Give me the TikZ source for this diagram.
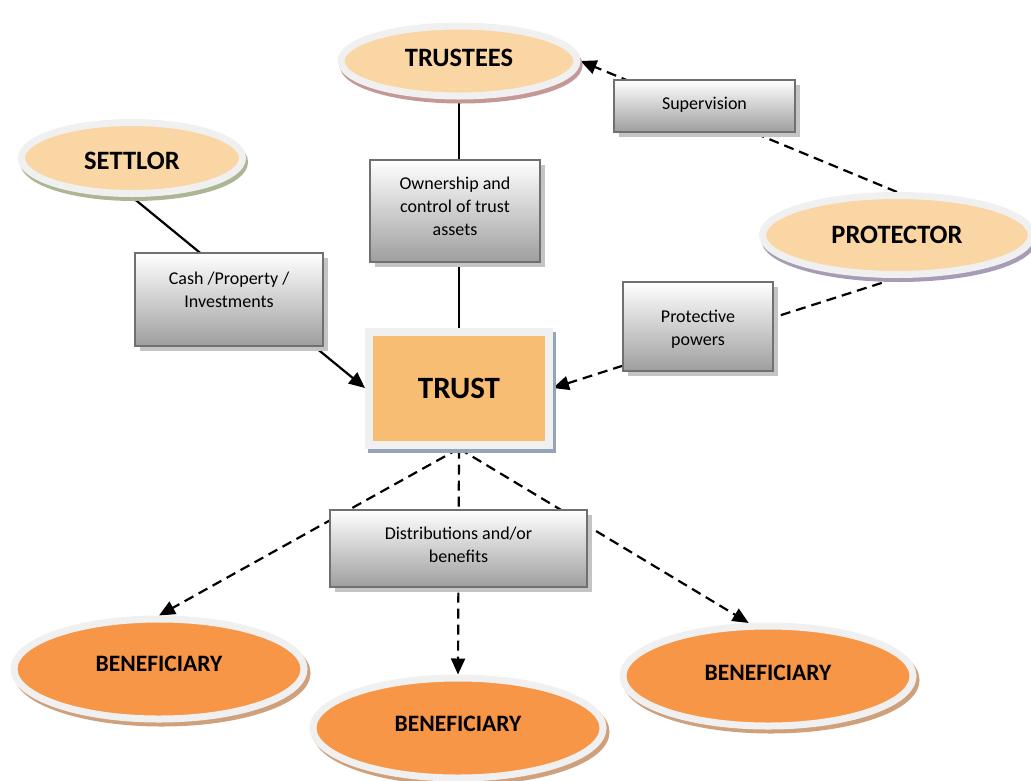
\documentclass[tikz,border=0pt]{standalone}
\usepackage{fontspec}
\setmainfont{Carlito}
\usetikzlibrary{shapes.geometric,shadows,arrows.meta}
\pgfdeclarelayer{bg}
\pgfsetlayers{bg,main}

\definecolor{rim}{RGB}{240,240,240}
\definecolor{peach}{RGB}{250,214,165}
\definecolor{bene}{RGB}{247,150,70}
\definecolor{trustfill}{RGB}{247,189,114}
\definecolor{shRose}{RGB}{196,152,150}
\definecolor{shSage}{RGB}{172,182,148}
\definecolor{shLilac}{RGB}{166,156,182}
\definecolor{shSteel}{RGB}{150,164,186}
\definecolor{shTan}{RGB}{206,160,124}
\definecolor{boxbot}{RGB}{158,158,158}
\definecolor{boxedge}{RGB}{112,112,112}
\definecolor{boxshadow}{RGB}{196,196,196}

% lift a title inside its shape while keeping the box extents
\newcommand{\liftby}[2]{\raisebox{#1}[\height][\depth]{#2}}

\begin{document}
\begin{tikzpicture}[x=1pt,y=-1pt,
  party/.style={ellipse, draw=rim, line width=7pt, fill=peach, inner sep=0pt,
    font=\bfseries\fontsize{26.5}{30}\selectfont,
    general shadow={draw=#1, fill=#1, line width=7pt, shadow xshift=2pt, shadow yshift=-4pt}},
  heir/.style={ellipse, draw=rim, line width=7pt, fill=bene, inner sep=0pt,
    minimum width=290pt, minimum height=100pt,
    font=\bfseries\fontsize{23.5}{27}\selectfont,
    general shadow={draw=shTan, fill=shTan, line width=7pt, shadow xshift=3pt, shadow yshift=-4pt}},
  trustbox/.style={rectangle, draw=rim, line width=8pt, fill=trustfill, inner sep=0pt,
    minimum width=180pt, minimum height=113pt,
    font=\bfseries\fontsize{31}{36}\selectfont,
    general shadow={draw=shSteel, fill=shSteel, line width=8pt, shadow xshift=3pt, shadow yshift=-4pt}},
  lbl/.style={rectangle, draw=boxedge, line width=2.2pt, inner sep=0pt,
    top color=white, bottom color=boxbot,
    general shadow={fill=boxshadow, shadow xshift=5pt, shadow yshift=-5pt}},
  lbltext/.style={align=center, font=\fontsize{18}{23}\selectfont, inner sep=0pt},
  link/.style={line width=2.2pt, black},
  tip/.style={-{Triangle[length=16pt,width=14pt]}},
  dashlink/.style={line width=2.2pt, black, dash pattern=on 10pt off 6pt},
]
\useasboundingbox (0,0) rectangle (1031,780);

% parties
\node[party=shRose, minimum width=236pt, minimum height=70pt] (trustees) at (459,61) {\liftby{3pt}{TRUSTEES}};
\node[party=shSage, minimum width=221pt, minimum height=71pt] (settlor) at (132,158) {\liftby{-3pt}{SETTLOR}};
\node[party=shLilac, minimum width=269pt, minimum height=79pt] (protector) at (897,235) {PROTECTOR};

% the trust itself
\node[trustbox] (trust) at (459,388) {TRUST};

% beneficiaries
\node[heir] (beneL) at (159,669) {\liftby{5pt}{BENEFICIARY}};
\node[heir] (beneM) at (458,728) {\liftby{4pt}{BENEFICIARY}};
\node[heir] (beneR) at (768,676) {\liftby{3pt}{BENEFICIARY}};

% caption boxes on the connectors
\node[lbl, minimum width=181pt, minimum height=52pt] (supervision) at (704.5,106) {};
\node[lbltext] at ([yshift=1pt]supervision.center) {Supervision};

\node[lbl, minimum width=170pt, minimum height=102pt] (ownership) at (455,211) {};
\node[lbltext] at ([yshift=5pt]ownership.center) {Ownership and\\control of trust\\assets};

\node[lbl, minimum width=188pt, minimum height=93pt] (cash) at (229,299.5) {};
\node[lbltext] at ([yshift=10pt]cash.center) {Cash /Property /\\Investments};

\node[lbl, minimum width=150pt, minimum height=89pt] (protective) at (698,326.5) {};
\node[lbltext] at ([yshift=-3pt]protective.center) {Protective\\powers};

\node[lbl, minimum width=257pt, minimum height=77pt] (distrib) at (458.5,548.5) {};
\node[lbltext] at ([yshift=4pt]distrib.center) {Distributions and/or\\benefits};

% connectors, kept behind the boxes
\begin{pgfonlayer}{bg}
  \draw[link] (trustees) -- (trust);
  \draw[link, tip] (settlor.south) -- (trust.west);
  \draw[dashlink, tip] (protector.north) -- (trustees.east);
  \draw[dashlink, tip] (protector.south) -- (trust.east);
  \draw[dashlink, tip] (trust.south) -- (beneL.north);
  \draw[dashlink, tip] (trust.south) -- (beneM.north);
  \draw[dashlink, tip] (trust.south) -- (beneR.110);
\end{pgfonlayer}
\end{tikzpicture}
\end{document}
